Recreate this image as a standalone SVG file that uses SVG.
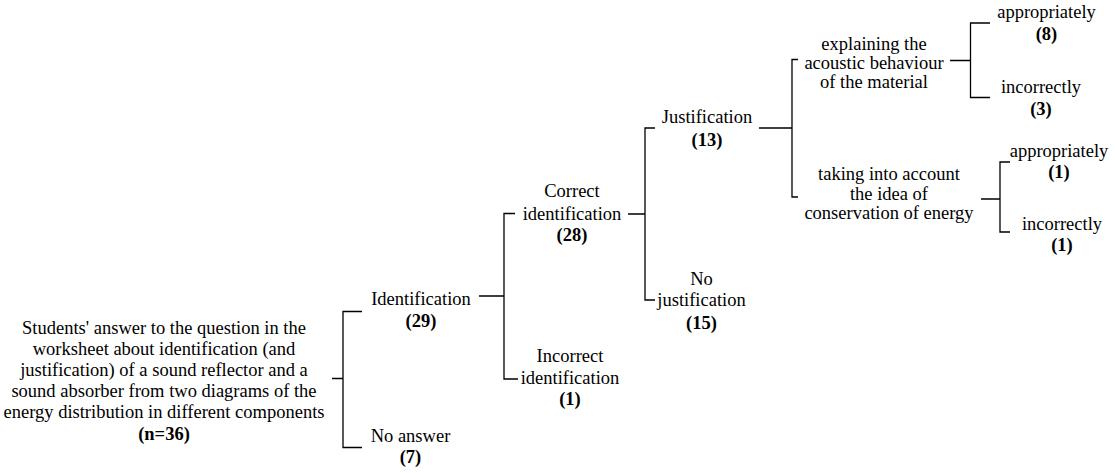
<svg xmlns="http://www.w3.org/2000/svg" width="1115" height="473" viewBox="0 0 1115 473">
<style>
  text { font-family: "Liberation Serif", "Times New Roman", serif; font-size: 18.5px; fill: #000; text-anchor: middle; }
  .n { font-weight: bold; }
  .c { fill: none; stroke: #000; stroke-width: 1.3; }
</style>
<rect width="1115" height="473" fill="#fff"/>
<g id="connectors">
  <path class="c" d="M332,378.5 H343 M362,311.5 H343 V447.5 H362"/>
  <path class="c" d="M479,296 H504 M515,213.5 H504 V379 H518"/>
  <path class="c" d="M628,214 H645 M655,128 H645 V300 H655"/>
  <path class="c" d="M759,128 H792 M798,59.5 H792 V197 H798"/>
  <path class="c" d="M950,60.5 H970.5 M990,23 H970.5 V97.5 H990"/>
  <path class="c" d="M981,199 H1000 M1010,162 H1000 V232 H1010"/>
</g>
<g id="root">
  <text x="164" y="334">Students' answer to the question in the</text>
  <text x="164" y="355">worksheet about identification (and</text>
  <text x="164" y="376">justification) of a sound reflector and a</text>
  <text x="164" y="397">sound absorber from two diagrams of the</text>
  <text x="164" y="418">energy distribution in different components</text>
  <text x="164" y="439.5" class="n">(n=36)</text>
</g>
<g id="identification">
  <text x="421" y="305">Identification</text>
  <text x="421" y="327" class="n">(29)</text>
</g>
<g id="no-answer">
  <text x="410.5" y="442">No answer</text>
  <text x="410.5" y="463" class="n">(7)</text>
</g>
<g id="correct-identification">
  <text x="572" y="197">Correct</text>
  <text x="572" y="219.5">identification</text>
  <text x="572" y="241" class="n">(28)</text>
</g>
<g id="incorrect-identification">
  <text x="570" y="362">Incorrect</text>
  <text x="570" y="384">identification</text>
  <text x="570" y="405" class="n">(1)</text>
</g>
<g id="justification">
  <text x="707" y="123">Justification</text>
  <text x="707" y="146" class="n">(13)</text>
</g>
<g id="no-justification">
  <text x="701.5" y="284.5">No</text>
  <text x="701.5" y="306">justification</text>
  <text x="701.5" y="328.5" class="n">(15)</text>
</g>
<g id="explaining">
  <text x="874" y="50">explaining the</text>
  <text x="874" y="69">acoustic behaviour</text>
  <text x="874" y="88">of the material</text>
</g>
<g id="explaining-appropriately">
  <text x="1046.5" y="18">appropriately</text>
  <text x="1046.5" y="39.5" class="n">(8)</text>
</g>
<g id="explaining-incorrectly">
  <text x="1041" y="93">incorrectly</text>
  <text x="1041" y="115" class="n">(3)</text>
</g>
<g id="conservation">
  <text x="889" y="180">taking into account</text>
  <text x="889" y="199.5">the idea of</text>
  <text x="889" y="219">conservation of energy</text>
</g>
<g id="conservation-appropriately">
  <text x="1059" y="156.5">appropriately</text>
  <text x="1059" y="177.5" class="n">(1)</text>
</g>
<g id="conservation-incorrectly">
  <text x="1062" y="230">incorrectly</text>
  <text x="1062" y="251" class="n">(1)</text>
</g>
</svg>
